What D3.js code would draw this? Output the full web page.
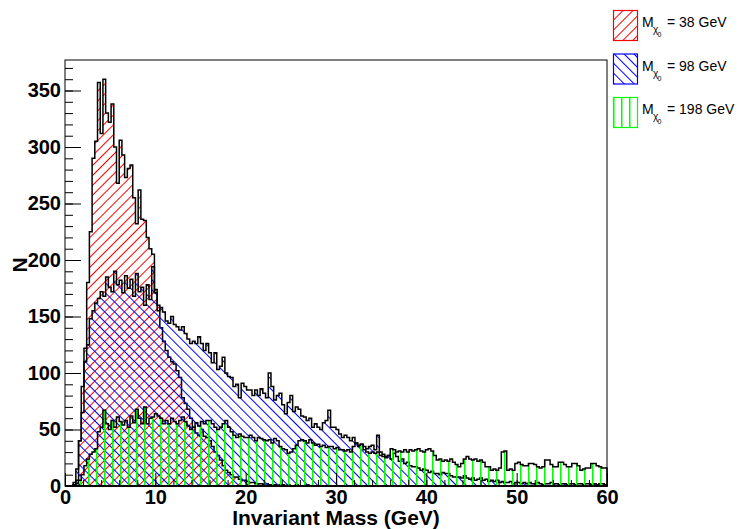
<!DOCTYPE html>
<meta charset="utf-8">
<style>

body {
  margin: 0;
  background: #fff;
}

text {
  font-family: "Liberation Sans", Arial, Helvetica, sans-serif;
}

.axis text {
  font-size: 20px;
  font-weight: bold;
  fill: #000;
}

.axis line {
  stroke: #000;
  stroke-width: 1px;
}

</style>
<body>
    <div class='canvas'></div>
</body>
<script src="https://d3js.org/d3.v7.min.js"></script>
<script>

// bin width in GeV, counts per bin
var binWidth = 0.3;

var red38 = [
  0,0,0,1,5,40,88,122,180,225,
  290,305,357,312,360,330,322,338,300,268,
  306,293,273,281,284,255,232,262,236,235,
  220,210,205,174,160,140,128,120,114,110,
  108,102,96,78,73,68,60,52,47,45,
  50,44,43,40,35,30,27,23,18,14,
  12,10,8,8,6,5,5,4,3,3,
  2,2,2,1,2,1,1,1,0,1,
  1,0,1,0,0,1,0,0,0,1,
  0,0,0,0,0,0,0,0,0,0
];

var blue98 = [
  0,0,0,3,15,40,65,110,125,148,
  155,162,166,172,168,185,176,172,190,178,
  182,171,186,175,183,168,188,172,176,160,
  178,165,194,171,155,158,154,146,144,150,
  143,141,138,141,135,130,126,128,126,132,
  126,120,126,118,109,118,103,106,114,100,
  97,96,88,90,78,91,88,85,85,80,
  85,80,86,82,78,100,88,76,80,82,
  72,64,74,80,66,70,68,62,61,58,
  60,52,55,52,50,56,58,67,52,52,
  50,46,43,45,43,40,43,38,35,37,
  35,33,35,36,32,45,30,28,26,27,
  24,29,26,22,24,20,21,18,17,17,
  16,14,15,14,12,13,11,11,10,12,
  11,11,9,8,8,8,7,9,7,6,
  7,5,6,7,5,6,4,5,4,5,
  3,4,3,3,4,2,3,3,2,3,
  2,3,2,2,3,2,1,2,2,3,
  2,2,1,2,2,1,2,2,1,2,
  2,1,2,2,1,2,1,2,2,1
];

var green198 = [
  0,0,0,1,2,5,10,18,24,28,
  30,33,48,52,67,55,50,58,52,61,
  57,54,58,52,62,56,68,60,55,70,
  55,60,61,64,62,60,55,58,55,60,
  57,55,58,61,57,53,50,52,56,53,
  57,55,58,58,55,52,50,52,55,58,
  52,48,45,43,46,44,43,43,45,43,
  40,43,42,41,40,41,38,42,40,35,
  33,32,29,30,33,36,40,41,40,38,
  41,38,36,37,35,36,34,35,35,33,
  34,32,32,31,32,30,35,38,36,37,
  32,30,29,30,29,30,27,26,25,27,
  33,32,30,31,30,32,30,32,31,32,
  33,31,30,32,33,31,27,23,24,22,
  23,22,24,21,19,17,20,24,26,24,
  23,24,22,23,21,17,17,14,15,14,
  16,30,31,14,15,14,20,21,19,18,
  18,20,20,19,17,16,17,23,23,19,
  17,17,21,21,19,17,17,20,20,18,
  14,15,16,16,20,20,18,17,16,16
];

var xTicks = [0, 10, 20, 30, 40, 50, 60];
var yTicks = [0, 50, 100, 150, 200, 250, 300, 350];
var legendMasses = ["38 GeV", "98 GeV", "198 GeV"];

var w = 742,
    h = 529,
    frameLeft = 65,
    frameRight = 607,
    frameTop = 60,
    frameBottom = 486;

var svg = d3.select(".canvas").append("svg")
    .attr("width", w)
    .attr("height", h);

var x = d3.scaleLinear().domain([0, 60]).range([frameLeft, frameRight]);
var y = d3.scaleLinear().domain([0, 377]).range([frameBottom, frameTop]);

// hatch patterns like ROOT fill styles 3004 / 3005 / 3006
var defs = svg.append("defs");

function hatch(id, color, angle, size, lw) {
  var p = defs.append("pattern")
      .attr("id", id)
      .attr("patternUnits", "userSpaceOnUse")
      .attr("width", size)
      .attr("height", size)
      .attr("patternTransform", "rotate(" + angle + ")");
  p.append("rect")
      .attr("x", 0).attr("y", 0)
      .attr("width", lw).attr("height", size)
      .attr("fill", color);
}

hatch("h-red", "#ff0000", 45, 7, 1);
hatch("h-blue", "#0000ff", -45, 7, 1);
hatch("h-green", "#00ff00", 0, 8, 1.5);

function steps(values) {
  var pts = [[0, 0]];
  values.forEach(function(v, i) {
    pts.push([i * binWidth, v]);
    pts.push([(i + 1) * binWidth, v]);
  });
  pts.push([values.length * binWidth, 0]);
  return pts;
}

var line = d3.line()
    .x(function(d) { return x(d[0]); })
    .y(function(d) { return y(d[1]); });

var series = [
  {values: red38, fill: "url(#h-red)", color: "#ff0000"},
  {values: blue98, fill: "url(#h-blue)", color: "#0000ff"},
  {values: green198, fill: "url(#h-green)", color: "#00ff00"}
];

var plot = svg.append("g");

plot.selectAll("path.hist")
    .data(series)
  .enter().append("path")
    .attr("class", "hist")
    .attr("d", function(d) { return line(steps(d.values)) + "Z"; })
    .attr("fill", function(d) { return d.fill; })
    .attr("stroke", "#000")
    .attr("stroke-width", 1.5)
    .attr("stroke-linejoin", "miter");

// axes, ticks pointing into the frame
var yMinor = svg.append("g")
    .attr("class", "axis")
    .attr("transform", "translate(" + frameLeft + ",0)")
    .call(d3.axisLeft(y).tickValues(d3.range(0, 377, 10)).tickSize(-8).tickFormat(""));
yMinor.select(".domain").remove();

var yAxis = svg.append("g")
    .attr("class", "axis")
    .attr("transform", "translate(" + frameLeft + ",0)")
    .call(d3.axisLeft(y).tickValues(yTicks).tickSize(-16).tickPadding(4));
yAxis.select(".domain").remove();

var xMinor = svg.append("g")
    .attr("class", "axis")
    .attr("transform", "translate(0," + frameBottom + ")")
    .call(d3.axisBottom(x).tickValues(d3.range(0, 61, 2)).tickSize(-6).tickFormat(""));
xMinor.select(".domain").remove();

var xAxis = svg.append("g")
    .attr("class", "axis")
    .attr("transform", "translate(0," + frameBottom + ")")
    .call(d3.axisBottom(x).tickValues(xTicks).tickSize(-13).tickPadding(4));
xAxis.select(".domain").remove();

svg.append("rect")
    .attr("x", frameLeft)
    .attr("y", frameTop)
    .attr("width", frameRight - frameLeft)
    .attr("height", frameBottom - frameTop)
    .attr("fill", "none")
    .attr("stroke", "#000")
    .attr("stroke-width", 1);

svg.append("text")
    .attr("x", (frameLeft + frameRight) / 2)
    .attr("y", 525)
    .attr("text-anchor", "middle")
    .style("font-size", "21px")
    .style("font-weight", "bold")
    .text("Invariant Mass (GeV)");

svg.append("text")
    .attr("transform", "translate(27,265) rotate(-90)")
    .attr("text-anchor", "middle")
    .style("font-size", "21px")
    .style("font-weight", "bold")
    .text("N");

// legend
var legend = svg.selectAll("g.legend")
    .data(series)
  .enter().append("g")
    .attr("class", "legend")
    .attr("transform", function(d, i) { return "translate(613," + (10 + i * 43.5) + ")"; });

legend.append("rect")
    .attr("x", 0.5)
    .attr("y", 0.5)
    .attr("width", 24)
    .attr("height", 30)
    .attr("fill", function(d) { return d.fill; })
    .attr("stroke", function(d) { return d.color; })
    .attr("stroke-width", 1.2);

legend.append("text")
    .attr("x", 29)
    .attr("y", 17)
    .style("font-size", "14px")
    .text("M");

legend.append("text")
    .attr("x", 40)
    .attr("y", 23)
    .style("font-size", "10px")
    .text("\u03c7");

legend.append("text")
    .attr("x", 44.5)
    .attr("y", 27)
    .style("font-size", "7px")
    .text("0");

legend.append("text")
    .attr("x", 54)
    .attr("y", 17)
    .style("font-size", "14px")
    .text(function(d, i) { return "= " + legendMasses[i]; });

</script>
